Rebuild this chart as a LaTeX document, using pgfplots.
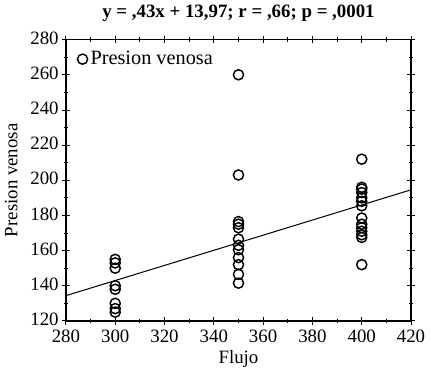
\documentclass[border=0pt]{standalone}
\usepackage{pgfplots}
\pgfplotsset{compat=1.18}
\usepackage{fontspec}
\setmainfont{Liberation Serif}
\begin{document}
\begin{tikzpicture}
\begin{axis}[
  scale only axis,
  width=238pt, height=194pt,
  xmin=280, xmax=420, ymin=120, ymax=280,
  xtick={280,300,...,420}, ytick={120,140,...,280},
  minor x tick num=1, minor y tick num=1,
  tick align=center,
  major tick length=5pt, minor tick length=3pt,
  every tick/.style={black, line width=0.6pt},
  axis line style={line width=0.9pt},
  /pgf/number format/assume math mode=true,
  tick label style={font=\fontsize{13}{15}\selectfont},
  xticklabel style={yshift=0pt},
  yticklabel style={xshift=1pt, yshift=1pt},
  xlabel={Flujo}, ylabel={Presion venosa},
  label style={font=\fontsize{13}{15}\selectfont},
  xlabel style={yshift=1pt},
  ylabel style={yshift=2pt},
  title={\textbf{y = ,43x + 13,97; r = ,66; p = ,0001}},
  title style={font=\fontsize{13}{15}\selectfont, yshift=3pt},
  legend style={draw=none, fill=none, at={(0.02,0.98)}, anchor=north west, font=\fontsize{14}{16}\selectfont},
  legend cell align=left,
]
\addplot[only marks, mark=o, mark size=3.5pt, mark options={line width=1pt, black}] coordinates {
 (300,155) (300,153) (300,150) (300,140) (300,138) (300,130) (300,127) (300,125)
 (350,260) (350,203) (350,176.5) (350,175) (350,173) (350,166.5) (350,163) (350,160.5) (350,156) (350,152) (350,146.5) (350,141.5)
 (400,212) (400,196) (400,195) (400,193) (400,190) (400,188) (400,185.5) (400,178.5) (400,175) (400,173) (400,171) (400,169) (400,167.5) (400,152)
};
\addlegendentry{Presion venosa}
\addplot[black, line width=0.7pt, forget plot] coordinates {(280,134.37) (420,194.57)};
\end{axis}
\end{tikzpicture}
\end{document}
